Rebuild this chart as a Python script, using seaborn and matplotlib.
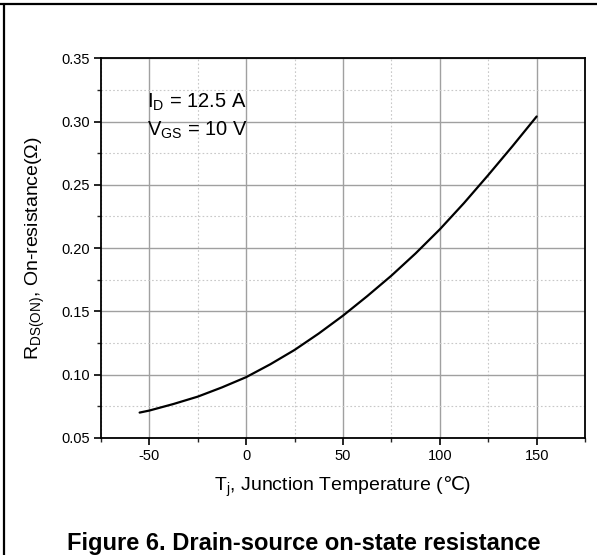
import numpy as np
import pandas as pd
import matplotlib
matplotlib.use('Agg')
import matplotlib.pyplot as plt
import seaborn as sns
from matplotlib.ticker import MultipleLocator, FormatStrFormatter
from matplotlib.lines import Line2D

# 데이터
temp_c = [-55, -50, -37.5, -25, -12.5, 0, 12.5, 25, 37.5, 50, 62.5, 75, 87.5, 100,
          112.5, 125, 137.5, 150]
r_on = [0.0700, 0.0716, 0.0768, 0.0826, 0.0899, 0.0980, 0.1082, 0.1195, 0.1325, 0.1466,
        0.1620, 0.1782, 0.1958, 0.2148, 0.2356, 0.2577, 0.2805, 0.3040]
x_ticks = [-50, 0, 50, 100, 150]
y_ticks = [0.05, 0.10, 0.15, 0.20, 0.25, 0.30, 0.35]

df = pd.DataFrame({'T': temp_c, 'R': r_on})

sns.set_style('white')
plt.rcParams['font.family'] = ['Liberation Sans', 'DejaVu Sans']
plt.rcParams['mathtext.fontset'] = 'custom'
plt.rcParams['mathtext.rm'] = 'Liberation Sans'
plt.rcParams['mathtext.it'] = 'Liberation Sans:italic'
plt.rcParams['mathtext.sf'] = 'DejaVu Sans'
plt.rcParams['axes.unicode_minus'] = False
plt.rcParams['text.color'] = 'black'
plt.rcParams['axes.labelcolor'] = 'black'

fig = plt.figure(figsize=(5.97, 5.55), dpi=100)
ax = fig.add_axes([0.169, 0.211, 0.811, 0.684])

sns.lineplot(data=df, x='T', y='R', color='black', lw=1.6, ax=ax)

ax.set_xlim(-75, 175)
ax.set_ylim(0.05, 0.35)
ax.set_xticks(x_ticks)
ax.set_yticks(y_ticks)
ax.xaxis.set_minor_locator(MultipleLocator(25))
ax.yaxis.set_minor_locator(MultipleLocator(0.025))
ax.yaxis.set_major_formatter(FormatStrFormatter('%.2f'))

ax.grid(which='major', color='#a0a0a0', lw=1.0, ls='-')
ax.grid(which='minor', color='#c8c8c8', lw=0.8, ls=(0, (1.5, 2)))
ax.set_axisbelow(True)

for s in ax.spines.values():
    s.set_color('black')
    s.set_linewidth(1.3)

ax.tick_params(which='major', direction='out', length=5, width=1.2, labelsize=10.5,
               bottom=True, left=True, colors='black', pad=3)
ax.tick_params(which='minor', direction='out', length=3, width=1.0, bottom=True, left=True)

ax.set_xlabel(r'T$_\mathrm{j}$, Junction Temperature ($\mathsf{℃}$)', fontsize=14)
ax.set_ylabel(r'R$_\mathrm{DS(ON)}$, On-resistance($\Omega$)', fontsize=14)
ax.xaxis.set_label_coords(0.5, -0.13)
ax.yaxis.set_label_coords(-0.135, 0.5)
ax.xaxis.label.set_va('center')
ax.yaxis.label.set_va('center')

ax.text(-51, 0.315, r'I$_\mathrm{D}$ = 12.5 A', fontsize=14.5, va='center', ha='left')
ax.text(-51, 0.293, r'V$_\mathrm{GS}$ = 10 V', fontsize=14.5, va='center', ha='left')

fig.text(0.508, 5 / 555, 'Figure 6. Drain-source on-state resistance', fontsize=17,
         fontweight='bold', ha='center', va='baseline')

# 바깥 테두리 (위, 왼쪽)
fig.add_artist(Line2D([0, 1], [1 - 3.5 / 555, 1 - 3.5 / 555], color='black', lw=1.6,
                      transform=fig.transFigure))
fig.add_artist(Line2D([4 / 597, 4 / 597], [0, 1 - 3.5 / 555], color='black', lw=1.6,
                      transform=fig.transFigure))

fig.savefig('out.png', dpi=100)
